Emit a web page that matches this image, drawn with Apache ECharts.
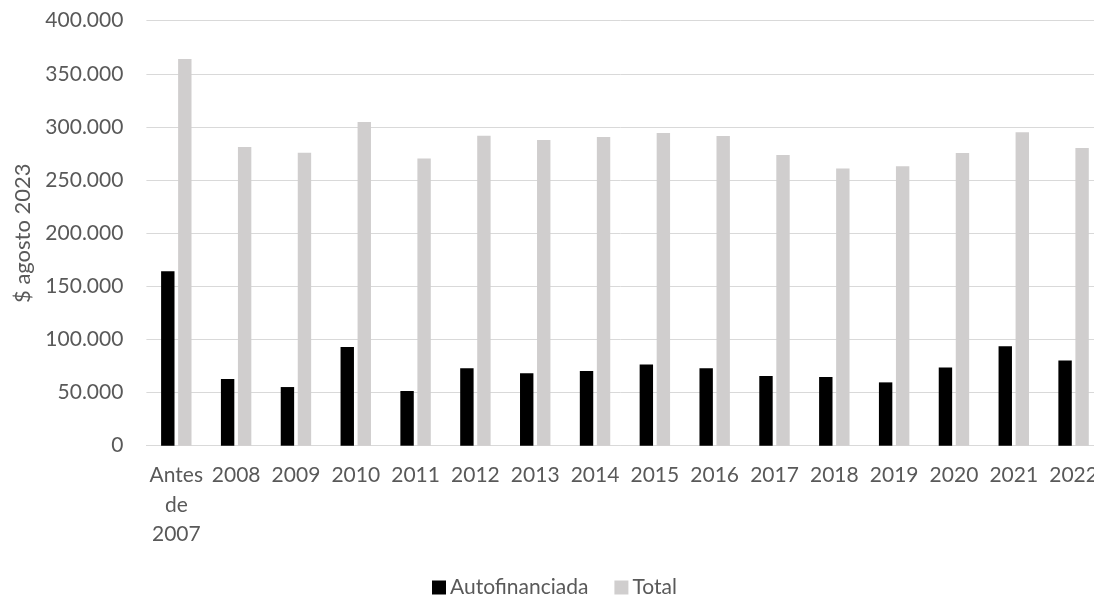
<!DOCTYPE html>
<html>
<head>
<meta charset="utf-8">
<script src="https://cdn.jsdelivr.net/npm/echarts@6/dist/echarts.min.js"></script>
<style>
  html, body { margin: 0; padding: 0; background: #ffffff; }
  #chart { width: 1094px; height: 597px; }
</style>
</head>
<body>
<div id="chart"></div>
<script>
// Categories (years) and series values in $ of August 2023
const categories = ['Antes\nde\n2007', '2008', '2009', '2010', '2011', '2012', '2013', '2014',
  '2015', '2016', '2017', '2018', '2019', '2020', '2021', '2022'];
const autofinanciada = [164100, 62700, 55200, 92900, 51500, 72800, 68100, 70300,
  76500, 72800, 65600, 64600, 59600, 73700, 93500, 80300];
const total = [363900, 281100, 275800, 304600, 270400, 291800, 287700, 290500,
  294300, 291500, 273600, 261000, 262900, 275500, 294900, 280200];
const seriesNames = ['Autofinanciada', 'Total'];
const yAxisTitle = '$ agosto 2023';

const FONT = 'Lato';
const TEXT = '#595959';
const GRID = '#d9d9d9';

// Thousands separated with a dot: 350000 -> "350.000"
function fmt(v) {
  return String(Math.round(v)).replace(/\B(?=(\d{3})+(?!\d))/g, '.');
}

const chart = echarts.init(document.getElementById('chart'), null, { renderer: 'canvas' });
chart.setOption({
  animation: false,
  backgroundColor: '#ffffff',
  textStyle: { fontFamily: FONT },
  grid: {
    left: 146.4, right: -9.5, top: 20.7, bottom: 151.3,
    containLabel: false,
    outerBoundsMode: 'none'
  },
  legend: {
    data: seriesNames,
    left: 427,
    top: 572,
    icon: 'rect',
    itemWidth: 14,
    itemHeight: 14,
    itemGap: 26,
    textStyle: { fontFamily: FONT, fontSize: 21, color: TEXT, padding: [0, 0, 0, -1] }
  },
  xAxis: {
    type: 'category',
    data: categories,
    axisTick: { show: false },
    axisLine: { show: true, lineStyle: { color: GRID, width: 1 } },
    axisLabel: {
      interval: 0,
      margin: 15,
      fontFamily: FONT,
      fontSize: 21,
      lineHeight: 29.5,
      color: TEXT,
      align: 'center'
    }
  },
  yAxis: {
    type: 'value',
    min: 0,
    max: 400000,
    interval: 50000,
    name: yAxisTitle,
    nameLocation: 'middle',
    nameRotate: 90,
    nameGap: 112,
    nameTextStyle: { fontFamily: FONT, fontSize: 22, color: TEXT },
    axisLine: { show: false },
    axisTick: { show: false },
    splitLine: { show: true, lineStyle: { color: GRID, width: 1 } },
    axisLabel: {
      margin: 23,
      fontFamily: FONT,
      fontSize: 21,
      color: TEXT,
      formatter: fmt
    }
  },
  series: [
    {
      name: seriesNames[0],
      type: 'bar',
      data: autofinanciada,
      barWidth: 13.4,
      barGap: '27%',
      itemStyle: { color: '#000000' }
    },
    {
      name: seriesNames[1],
      type: 'bar',
      data: total,
      barWidth: 13.4,
      barGap: '27%',
      itemStyle: { color: '#d0cece' }
    }
  ]
});
</script>
</body>
</html>
